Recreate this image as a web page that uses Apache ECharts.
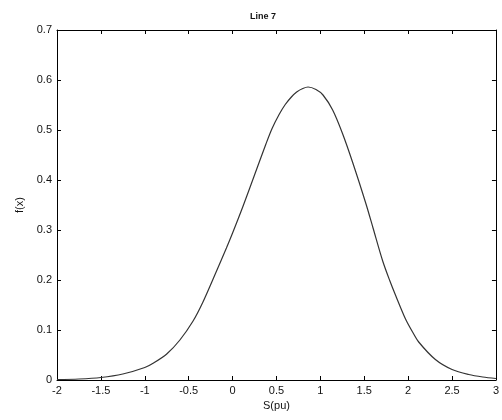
<!DOCTYPE html>
<html>
<head>
<meta charset="utf-8">
<script src="https://cdn.jsdelivr.net/npm/echarts@6/dist/echarts.min.js"></script>
<style>
  html, body { margin: 0; padding: 0; background: #fff; }
  #chart { width: 502px; height: 420px; }
</style>
</head>
<body>
<div id="chart"></div>
<script>
// Density curve for line 7: S (per unit) against f(x)
var sValues = [-2.0, -1.75, -1.5, -1.25, -1.0, -0.9, -0.75, -0.6, -0.45, -0.34, -0.19, -0.07,
               0.0, 0.12, 0.25, 0.38, 0.45, 0.53, 0.6, 0.67, 0.73, 0.80, 0.86, 0.95, 1.03, 1.14,
               1.25, 1.37, 1.52, 1.6, 1.71, 1.79, 1.86, 1.97, 2.05, 2.12, 2.31, 2.5, 2.69, 2.85, 3.0];
var fValues = [0.001, 0.002, 0.005, 0.012, 0.025, 0.034, 0.052, 0.080, 0.118, 0.155, 0.215, 0.264,
               0.294, 0.348, 0.410, 0.472, 0.503, 0.531, 0.551, 0.566, 0.576, 0.583, 0.586, 0.581,
               0.570, 0.540, 0.494, 0.434, 0.352, 0.304, 0.238, 0.199, 0.168, 0.122, 0.096, 0.076,
               0.041, 0.021, 0.011, 0.006, 0.003];
var xTicks = [-2, -1.5, -1, -0.5, 0, 0.5, 1, 1.5, 2, 2.5, 3];
var yTicks = [0, 0.1, 0.2, 0.3, 0.4, 0.5, 0.6, 0.7];

var points = sValues.map(function (s, i) { return [s, fValues[i]]; });

var font = 'Liberation Sans, Arial, sans-serif';
var lineStyle = { color: '#000', width: 1 };
var tick = { show: true, inside: true, length: 4, lineStyle: { color: '#000', width: 1 } };

function xAxisDef(pos, labels) {
  return {
    type: 'value', position: pos, min: xTicks[0], max: xTicks[xTicks.length - 1], interval: 0.5,
    axisLine: { show: true, onZero: false, lineStyle: lineStyle },
    axisTick: tick, splitLine: { show: false },
    axisLabel: { show: labels, color: '#111', fontFamily: font, fontSize: 11, margin: 5 },
    name: labels ? 'S(pu)' : '', nameLocation: 'middle', nameGap: 20,
    nameTextStyle: { color: '#111', fontFamily: font, fontSize: 11 }
  };
}
function yAxisDef(pos, labels) {
  return {
    type: 'value', position: pos, min: yTicks[0], max: yTicks[yTicks.length - 1], interval: 0.1,
    axisLine: { show: true, onZero: false, lineStyle: lineStyle },
    axisTick: tick, splitLine: { show: false },
    axisLabel: { show: labels, color: '#111', fontFamily: font, fontSize: 11, margin: 5 },
    name: labels ? 'f(x)' : '', nameLocation: 'middle', nameGap: 30,
    nameTextStyle: { color: '#111', fontFamily: font, fontSize: 11 }
  };
}

var chart = echarts.init(document.getElementById('chart'), null, { renderer: 'canvas' });
chart.setOption({
  animation: false,
  backgroundColor: '#fff',
  title: {
    text: 'Line 7', left: 258, top: 7, textAlign: 'center',
    textStyle: { fontFamily: font, fontSize: 9, fontWeight: 'bold', color: '#111' }
  },
  grid: { left: 57, right: 6, top: 30, bottom: 40 },
  xAxis: [xAxisDef('bottom', true), xAxisDef('top', false)],
  yAxis: [yAxisDef('left', true), yAxisDef('right', false)],
  series: [{
    type: 'line', data: points, smooth: 0.3, showSymbol: false,
    lineStyle: { color: '#333', width: 1.2 }
  }]
});
</script>
</body>
</html>
